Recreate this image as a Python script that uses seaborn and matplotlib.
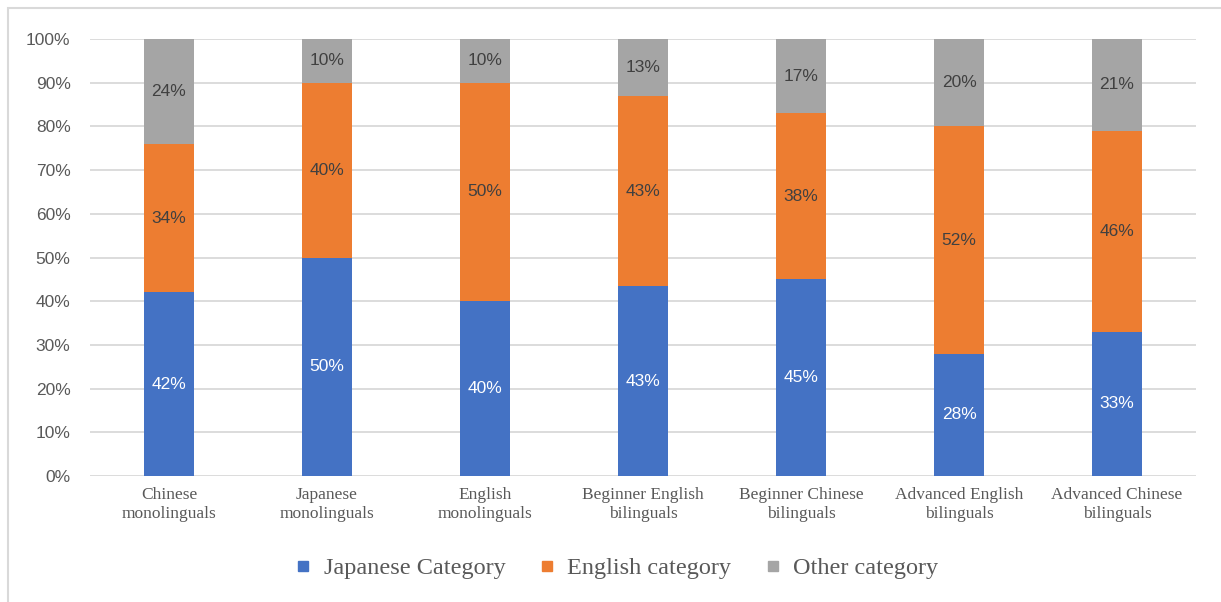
import matplotlib
matplotlib.use("Agg")
import matplotlib.pyplot as plt
from matplotlib.patches import Rectangle
from matplotlib.lines import Line2D
import numpy as np
import pandas as pd
import seaborn as sns

groups = ["Chinese\nmonolinguals", "Japanese\nmonolinguals", "English\nmonolinguals",
          "Beginner English\nbilinguals", "Beginner Chinese\nbilinguals",
          "Advanced English\nbilinguals", "Advanced Chinese\nbilinguals"]
japanese = [42, 50, 40, 43, 45, 28, 33]
english = [34, 40, 50, 43, 38, 52, 46]
other = [24, 10, 10, 13, 17, 20, 21]
series_names = ["Japanese Category", "English category", "Other category"]
colors = ["#4472C4", "#ED7D31", "#A5A5A5"]

# shares of each group, scaled to 100%
raw = np.array([japanese, english, other], dtype=float)
share = raw / raw.sum(axis=0) * 100
cum = np.cumsum(share, axis=0)

sns.set_theme(style="white")
fig = plt.figure(figsize=(12.21, 6.02), dpi=100)
ax = fig.add_axes([90 / 1221, 1 - 476 / 602, (1196 - 90) / 1221, (476 - 39) / 602])

df = pd.DataFrame({"group": groups, "jp": cum[0], "en": cum[1], "ot": cum[2]})

# stacked bars: draw the cumulative totals from the top layer down
for col, color in zip(["ot", "en", "jp"], colors[::-1]):
    sns.barplot(data=df, x="group", y=col, color=color, saturation=1,
                width=0.32, order=groups, ax=ax, zorder=3, linewidth=0)

ax.set_ylim(0, 100)
ax.set_xlim(-0.5, len(groups) - 0.5)
ax.set_yticks(np.arange(0, 101, 10))
ax.set_yticklabels([f"{v}%" for v in range(0, 101, 10)],
                   fontfamily="Liberation Sans", fontsize=12.5, color="#595959")
ax.set_xticks(range(len(groups)))
ax.set_xticklabels(groups, fontfamily="Liberation Serif", fontsize=12.5,
                   color="#595959", linespacing=1.2)
ax.tick_params(axis="both", length=0)
ax.tick_params(axis="y", pad=14)
ax.tick_params(axis="x", pad=8)
ax.set_xlabel("")
ax.set_ylabel("")
ax.yaxis.grid(True, color="#D9D9D9", linewidth=1.3, zorder=0)
ax.set_axisbelow(True)
for s in ax.spines.values():
    s.set_visible(False)

# segment labels
label_colors = ["white", "#404040", "#404040"]
for i in range(len(groups)):
    base = 0.0
    for k in range(3):
        v = share[k, i]
        ax.text(i, base + v / 2, f"{v:.0f}%", ha="center", va="center",
                fontfamily="Liberation Sans", fontsize=12.5,
                color=label_colors[k], zorder=5)
        base += v

handles = [Line2D([], [], marker="s", linestyle="none", markersize=7.5,
                  markerfacecolor=c, markeredgecolor=c) for c in colors]
fig.legend(handles, series_names, loc="center", bbox_to_anchor=(0.5045, 1 - 568 / 602),
           ncol=3, frameon=False, handlelength=0.8, handletextpad=0.45,
           columnspacing=1.3, prop={"family": "Liberation Serif", "size": 17.5},
           labelcolor="#595959")

# thin frame around the chart area
fig.patches.append(Rectangle((8 / 1221, -0.1), 1.2, 0.1 + (1 - 8 / 602),
                             transform=fig.transFigure, fill=False,
                             edgecolor="#D9D9D9", linewidth=1.5))

fig.savefig("out.png", dpi=100, facecolor="white")
